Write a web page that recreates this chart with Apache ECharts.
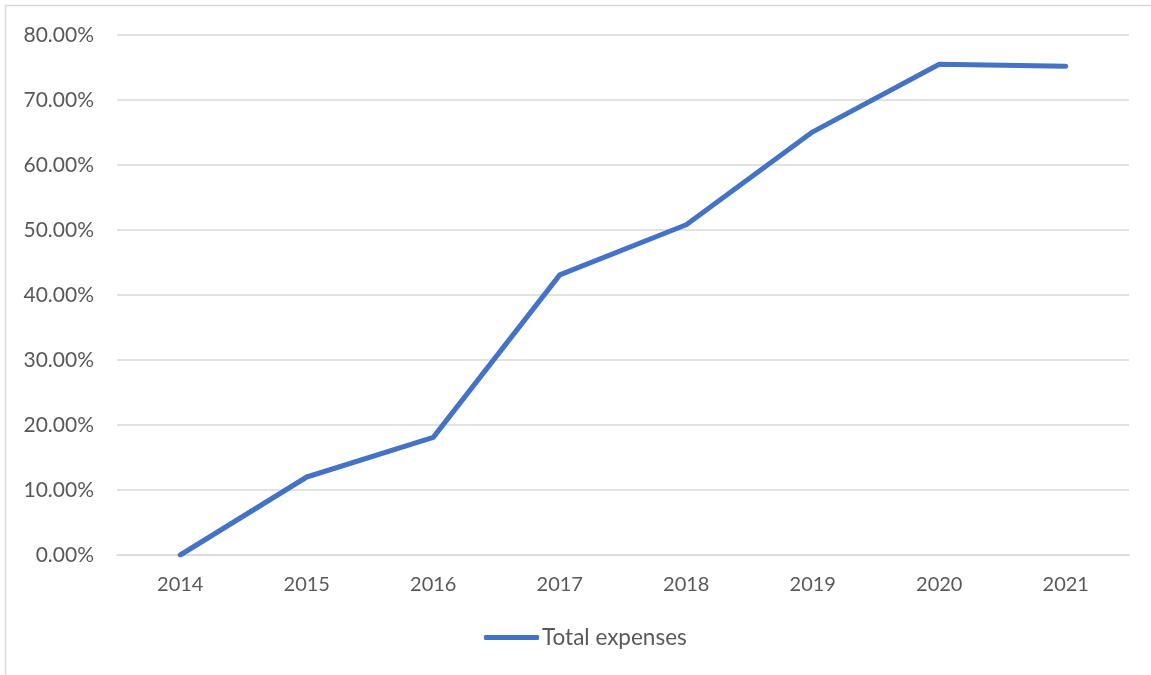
<!DOCTYPE html>
<html>
<head>
<meta charset="utf-8">
<title>Total expenses</title>
<script src="https://cdn.jsdelivr.net/npm/echarts@6/dist/echarts.min.js"></script>
<style>
  html, body { margin: 0; padding: 0; background: #ffffff; }
  #chart { width: 1151px; height: 675px; }
</style>
</head>
<body>
<div id="chart"></div>
<script>
// Years on the category axis
const years = ['2014', '2015', '2016', '2017', '2018', '2019', '2020', '2021'];
// Growth of total expenses relative to 2014, in percent
const totalExpenses = [0.0, 12.0, 18.1, 43.1, 50.8, 65.1, 75.5, 75.2];
// Value axis range and step, in percent
const yMin = 0;
const yMax = 80;
const yStep = 10;

const textColor = '#595959';
const gridColor = '#d9d9d9';
const lineColor = '#4472c4';
const fontFamily = 'Lato, "Open Sans", sans-serif';

const chart = echarts.init(document.getElementById('chart'));
chart.setOption({
  backgroundColor: '#ffffff',
  animation: false,
  graphic: [{
    type: 'rect',
    shape: { x: 5.5, y: 5.5, width: 1200, height: 700 },
    style: { fill: 'none', stroke: gridColor, lineWidth: 1.5 },
    silent: true
  }],
  grid: { left: 117, right: 22, top: 35, bottom: 120 },
  legend: {
    data: ['Total expenses'],
    bottom: 21,
    left: 479,
    icon: 'roundRect',
    itemWidth: 55,
    itemHeight: 5,
    itemGap: 10,
    itemStyle: { color: lineColor },
    textStyle: { color: textColor, fontSize: 22.5, fontFamily: fontFamily, padding: [0, 0, 0, -2] }
  },
  xAxis: {
    type: 'category',
    data: years,
    boundaryGap: true,
    axisLine: { show: true, lineStyle: { color: gridColor, width: 1.5 } },
    axisTick: { show: false },
    axisLabel: { color: textColor, fontSize: 20, fontFamily: fontFamily, margin: 20 }
  },
  yAxis: {
    type: 'value',
    min: yMin,
    max: yMax,
    interval: yStep,
    axisLine: { show: false },
    axisTick: { show: false },
    splitLine: { lineStyle: { color: gridColor, width: 1.5 } },
    axisLabel: {
      color: textColor,
      fontSize: 21,
      fontFamily: fontFamily,
      margin: 23,
      formatter: v => v.toFixed(2) + '%'
    }
  },
  series: [{
    name: 'Total expenses',
    type: 'line',
    data: totalExpenses,
    symbol: 'none',
    lineStyle: { color: lineColor, width: 5, cap: 'round', join: 'round' },
    itemStyle: { color: lineColor }
  }]
});
</script>
</body>
</html>
